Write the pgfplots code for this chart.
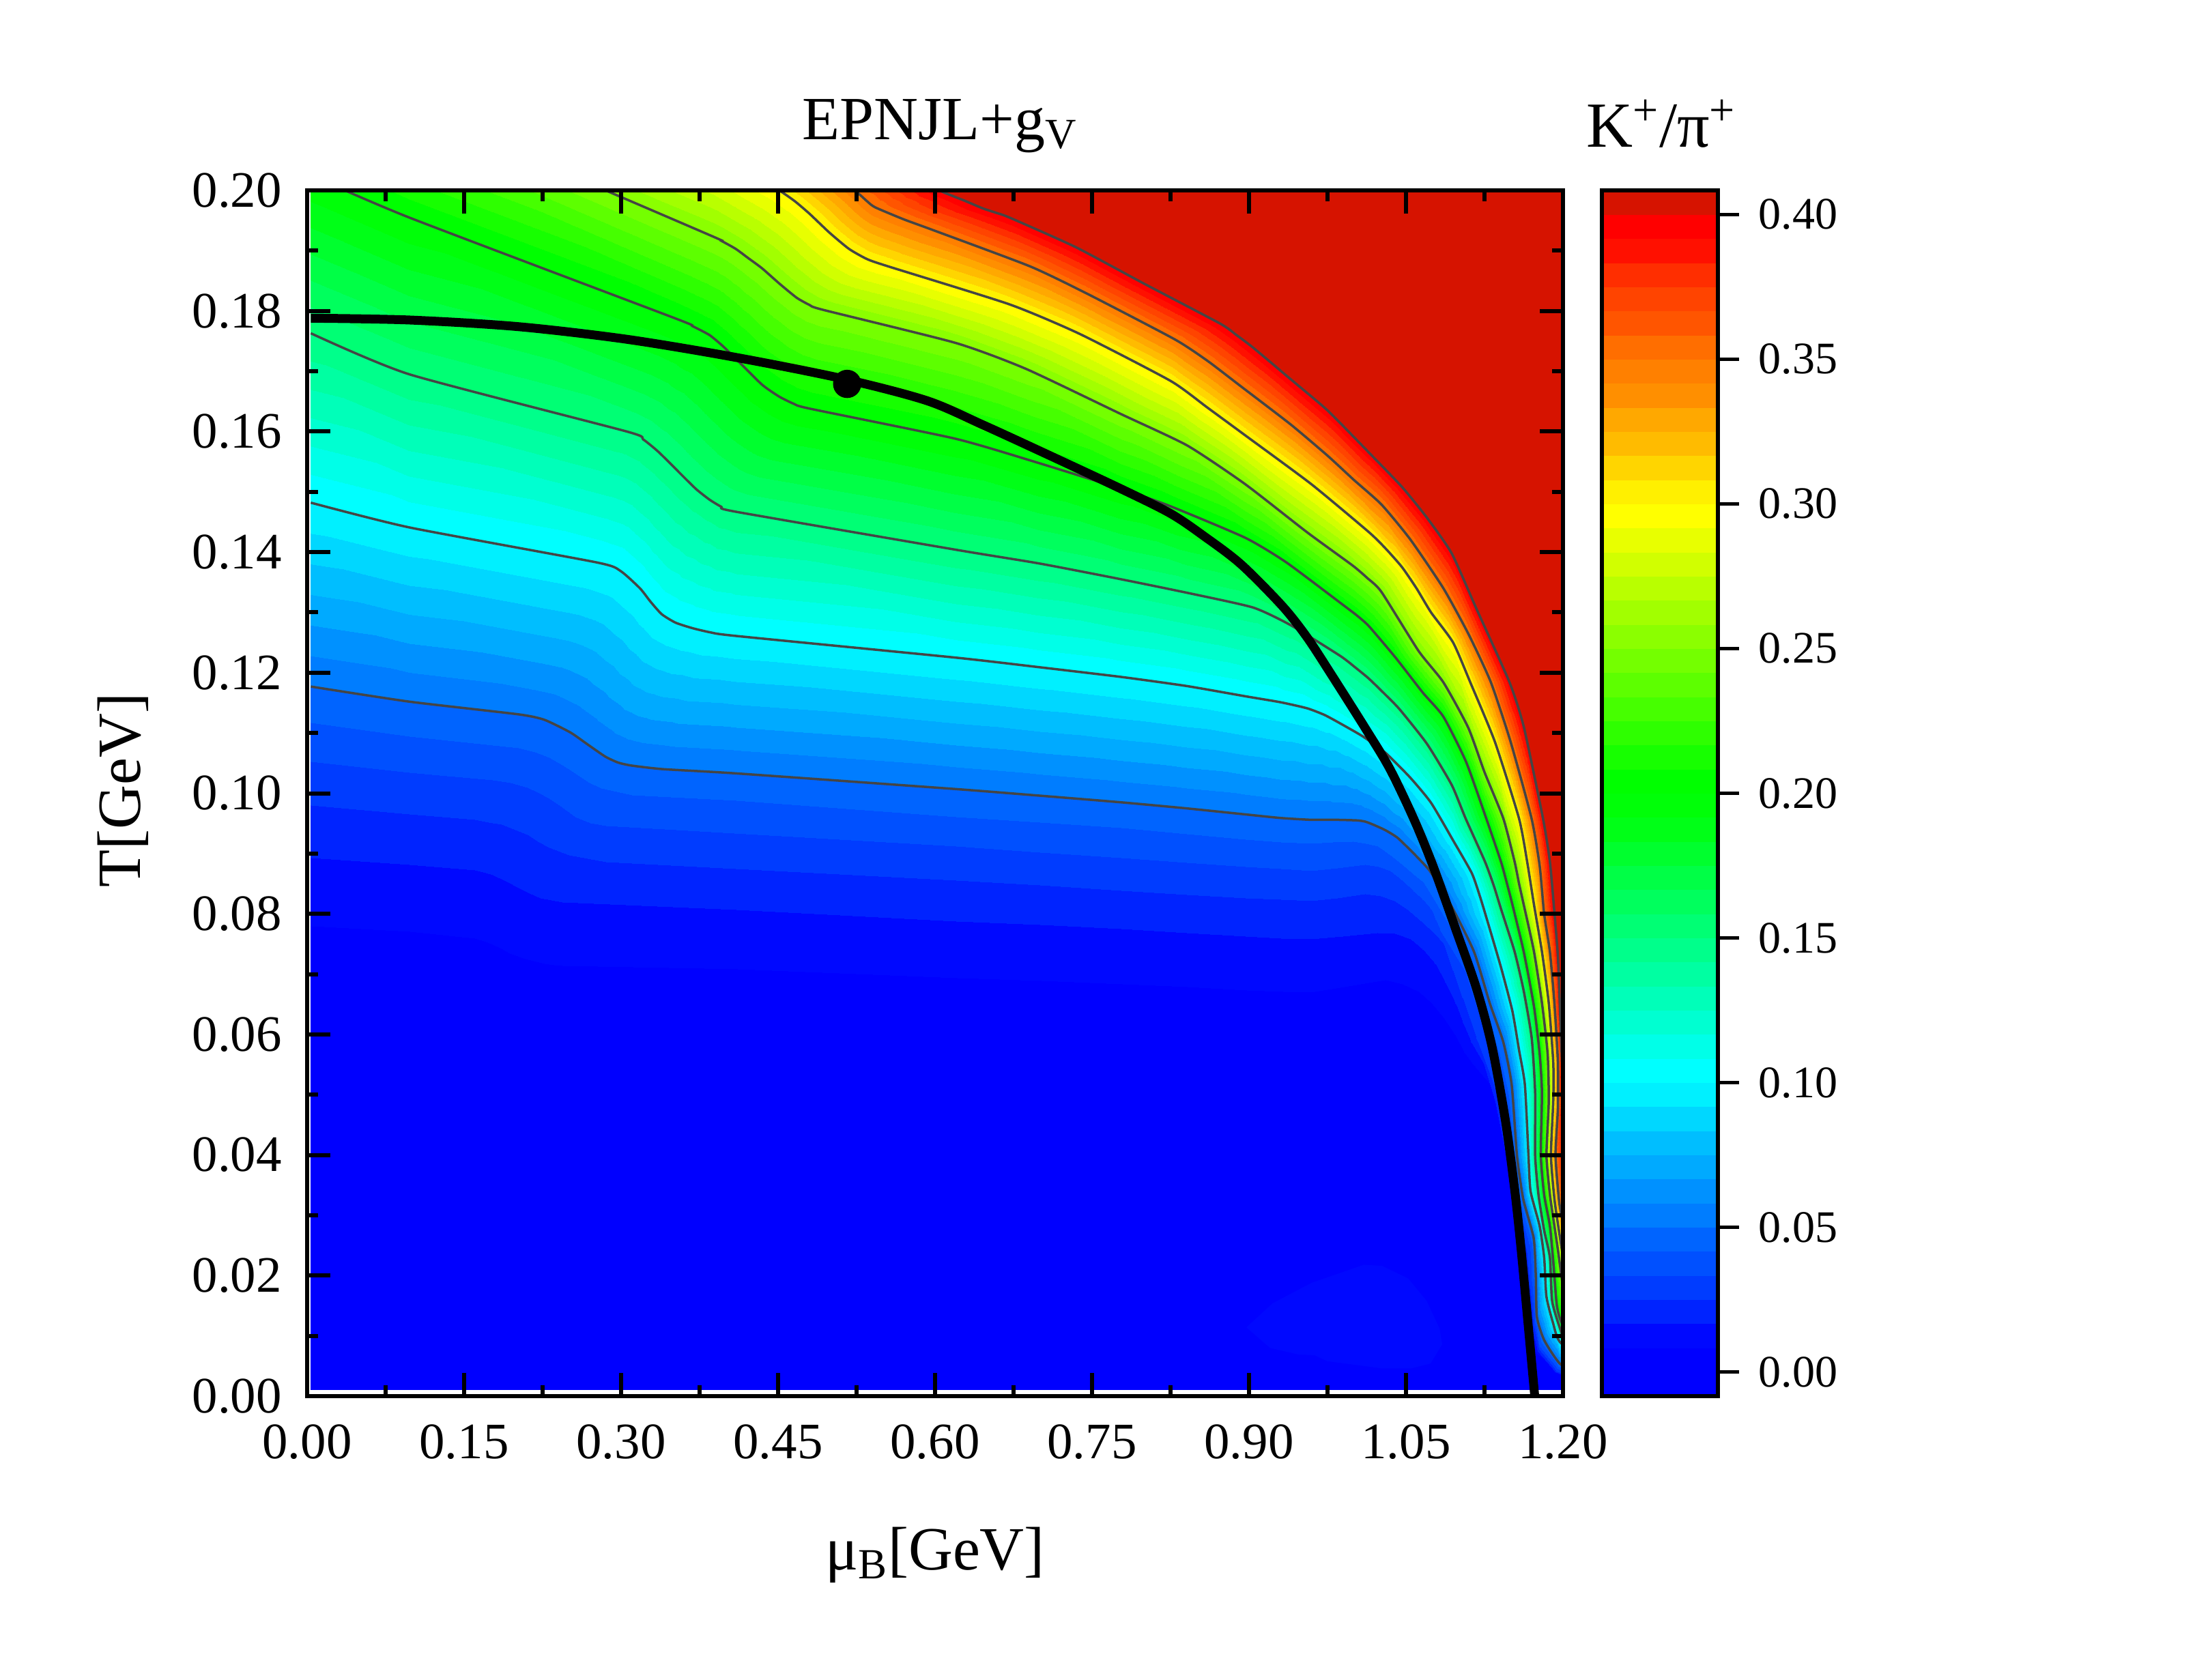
\documentclass[border=0pt]{standalone}
\usepackage{fontspec}
\setmainfont{Liberation Serif}
\usepackage{pgfplots}
\usepackage{pgfplotstable}
\pgfplotsset{compat=1.18}

% 14 contour lines of 40 points: mu_B, T, level
\pgfplotstableread{
m t v
0.0035 0.0011 0
0.0975 0.0011 0
0.1599 0.0011 0
0.170 0.0011 0
0.1766 0.0011 0
0.185 0.0011 0
0.1932 0.0011 0
0.208 0.0011 0
0.2265 0.0011 0
0.24 0.0011 0
0.4095 0.0011 0
0.6196 0.0011 0
0.70 0.0011 0
0.7776 0.0011 0
0.84 0.0011 0
0.8961 0.0011 0
0.93 0.0011 0
0.9593 0.0011 0
0.995 0.0011 0
1.0304 0.0011 0
1.046 0.0011 0
1.062 0.0011 0
1.074 0.0011 0
1.0857 0.0011 0
1.096 0.0011 0
1.106 0.0011 0
1.114 0.0011 0
1.1213 0.0011 0
1.1343 0.0011 0
1.142 0.0011 0
1.147 0.0011 0
1.150 0.0011 0
1.153 0.0011 0
1.156 0.0011 0
1.160 0.0011 0
1.163 0.0011 0
1.168 0.0011 0
1.1745 0.0011 0
1.197 0.0011 0
1.22 0.0011 0
0.0035 0.078 0.00833
0.0975 0.0771 0.00833
0.1599 0.0760 0.00833
0.170 0.0754 0.00833
0.1766 0.0749 0.00833
0.185 0.0742 0.00833
0.1932 0.0735 0.00833
0.208 0.0725 0.00833
0.2265 0.0718 0.00833
0.24 0.0714 0.00833
0.4095 0.0708 0.00833
0.6196 0.0694 0.00833
0.70 0.0689 0.00833
0.7776 0.0684 0.00833
0.84 0.0679 0.00833
0.8961 0.0673 0.00833
0.93 0.0671 0.00833
0.9593 0.0670 0.00833
0.995 0.0680 0.00833
1.0304 0.0690 0.00833
1.046 0.0684 0.00833
1.062 0.0671 0.00833
1.074 0.0652 0.00833
1.0857 0.0627 0.00833
1.096 0.0600 0.00833
1.106 0.0568 0.00833
1.114 0.0550 0.00833
1.1213 0.0535 0.00833
1.1343 0.0509 0.00833
1.142 0.0450 0.00833
1.147 0.0390 0.00833
1.150 0.0330 0.00833
1.153 0.0290 0.00833
1.156 0.0250 0.00833
1.160 0.0210 0.00833
1.163 0.0160 0.00833
1.168 0.0100 0.00833
1.1745 0.0071 0.00833
1.197 0.0037 0.00833
1.22 0.0020 0.00833
0.0035 0.0893 0.01667
0.0975 0.0882 0.01667
0.1599 0.0873 0.01667
0.170 0.0868 0.01667
0.1766 0.0865 0.01667
0.189 0.0855 0.01667
0.2015 0.0843 0.01667
0.212 0.0834 0.01667
0.2223 0.0826 0.01667
0.2431 0.0819 0.01667
0.4095 0.0807 0.01667
0.6196 0.0788 0.01667
0.70 0.0782 0.01667
0.7776 0.0775 0.01667
0.84 0.0769 0.01667
0.8961 0.0763 0.01667
0.93 0.0760 0.01667
0.9593 0.0758 0.01667
0.99 0.0763 0.01667
1.0225 0.0769 0.01667
1.039 0.0767 0.01667
1.054 0.0758 0.01667
1.066 0.0740 0.01667
1.0778 0.0716 0.01667
1.088 0.0685 0.01667
1.0974 0.0650 0.01667
1.105 0.0617 0.01667
1.1126 0.0585 0.01667
1.126 0.0545 0.01667
1.138 0.0500 0.01667
1.144 0.0440 0.01667
1.148 0.0380 0.01667
1.151 0.0330 0.01667
1.155 0.0290 0.01667
1.160 0.0250 0.01667
1.165 0.0190 0.01667
1.170 0.0110 0.01667
1.176 0.0074 0.01667
1.193 0.0040 0.01667
1.22 0.0022 0.01667
0.0035 0.0980 0.025
0.0975 0.0965 0.025
0.1599 0.0956 0.025
0.173 0.0952 0.025
0.1849 0.0948 0.025
0.198 0.0940 0.025
0.2098 0.0931 0.025
0.22 0.0920 0.025
0.2306 0.0910 0.025
0.25 0.0898 0.025
0.2847 0.0886 0.025
0.6196 0.0856 0.025
0.70 0.0848 0.025
0.7776 0.0839 0.025
0.84 0.0832 0.025
0.8961 0.0826 0.025
0.93 0.0824 0.025
0.9593 0.0822 0.025
0.985 0.0826 0.025
1.0107 0.0833 0.025
1.025 0.0830 0.025
1.0383 0.0822 0.025
1.052 0.0806 0.025
1.066 0.0784 0.025
1.076 0.0768 0.025
1.0857 0.0750 0.025
1.091 0.0728 0.025
1.095 0.0705 0.025
1.104 0.0660 0.025
1.118 0.0590 0.025
1.131 0.0530 0.025
1.142 0.0470 0.025
1.148 0.0385 0.025
1.153 0.0310 0.025
1.165 0.0245 0.025
1.168 0.0185 0.025
1.172 0.0115 0.025
1.177 0.0077 0.025
1.194 0.0041 0.025
1.22 0.0024 0.025
0.0035 0.1053 0.03333
0.0975 0.1035 0.03333
0.1766 0.1022 0.03333
0.194 0.1017 0.03333
0.2098 0.1010 0.03333
0.22 0.1002 0.03333
0.2306 0.0992 0.03333
0.243 0.0977 0.03333
0.2556 0.0961 0.03333
0.27 0.0951 0.03333
0.2847 0.0946 0.03333
0.6196 0.0912 0.03333
0.70 0.0902 0.03333
0.7776 0.0893 0.03333
0.84 0.0885 0.03333
0.8961 0.0878 0.03333
0.93 0.0875 0.03333
0.9593 0.0872 0.03333
0.985 0.0876 0.03333
1.0107 0.0882 0.03333
1.023 0.0878 0.03333
1.0344 0.0871 0.03333
1.046 0.0856 0.03333
1.058 0.0837 0.03333
1.066 0.0823 0.03333
1.0738 0.0807 0.03333
1.079 0.0789 0.03333
1.083 0.0770 0.03333
1.106 0.0705 0.03333
1.122 0.0620 0.03333
1.135 0.0555 0.03333
1.145 0.0485 0.03333
1.150 0.0390 0.03333
1.156 0.0317 0.03333
1.168 0.0250 0.03333
1.170 0.0190 0.03333
1.173 0.0120 0.03333
1.178 0.0082 0.03333
1.195 0.0045 0.03333
1.22 0.0026 0.03333
0.0035 0.1117 0.04167
0.0975 0.1095 0.04167
0.2015 0.1075 0.04167
0.217 0.1068 0.04167
0.2306 0.1059 0.04167
0.243 0.1047 0.04167
0.2556 0.1033 0.04167
0.268 0.1019 0.04167
0.2806 0.1009 0.04167
0.3097 0.0997 0.04167
0.4095 0.0988 0.04167
0.6196 0.0961 0.04167
0.70 0.0952 0.04167
0.7776 0.0943 0.04167
0.84 0.0933 0.04167
0.8961 0.0924 0.04167
0.93 0.0919 0.04167
0.9593 0.0917 0.04167
0.98 0.0919 0.04167
0.9988 0.0920 0.04167
1.011 0.0917 0.04167
1.0225 0.0912 0.04167
1.034 0.0899 0.04167
1.0462 0.0882 0.04167
1.056 0.0867 0.04167
1.066 0.0852 0.04167
1.077 0.0823 0.04167
1.088 0.0790 0.04167
1.110 0.0720 0.04167
1.126 0.0635 0.04167
1.139 0.0570 0.04167
1.148 0.0500 0.04167
1.153 0.0395 0.04167
1.159 0.0322 0.04167
1.170 0.0255 0.04167
1.172 0.0195 0.04167
1.174 0.0125 0.04167
1.180 0.0087 0.04167
1.196 0.0049 0.04167
1.22 0.0028 0.04167
0.0035 0.1177 0.05
0.0975 0.1152 0.05
0.2015 0.1131 0.05
0.2265 0.1122 0.05
0.2514 0.1101 0.05
0.268 0.1081 0.05
0.2847 0.1061 0.05
0.297 0.1051 0.05
0.3097 0.1046 0.05
0.34 0.1040 0.05
0.4095 0.1033 0.05
0.6196 0.1007 0.05
0.70 0.0996 0.05
0.7776 0.0985 0.05
0.84 0.0975 0.05
0.8961 0.0965 0.05
0.93 0.0959 0.05
0.959 0.0956 0.05
0.982 0.0956 0.05
1.003 0.0955 0.05
1.011 0.0953 0.05
1.0186 0.0948 0.05
1.030 0.0939 0.05
1.042 0.0926 0.05
1.058 0.0899 0.05
1.072 0.0873 0.05
1.083 0.0843 0.05
1.094 0.0811 0.05
1.115 0.0737 0.05
1.130 0.0652 0.05
1.143 0.0587 0.05
1.151 0.0516 0.05
1.156 0.0399 0.05
1.162 0.0327 0.05
1.172 0.0262 0.05
1.174 0.0200 0.05
1.175 0.0132 0.05
1.182 0.0093 0.05
1.197 0.0054 0.05
1.22 0.0030 0.05
0.0035 0.1482 0.10
0.0975 0.1441 0.10
0.2764 0.1383 0.10
0.2992 0.1369 0.10
0.318 0.1340 0.10
0.328 0.1318 0.10
0.3388 0.1297 0.10
0.352 0.1283 0.10
0.3679 0.1274 0.10
0.385 0.1267 0.10
0.4095 0.1261 0.10
0.6196 0.1225 0.10
0.70 0.1209 0.10
0.7776 0.1193 0.10
0.84 0.1178 0.10
0.8961 0.1161 0.10
0.93 0.1151 0.10
0.9554 0.1141 0.10
0.972 0.1130 0.10
0.987 0.1116 0.10
1.009 0.1094 0.10
1.0304 0.1067 0.10
1.054 0.1026 0.10
1.074 0.0984 0.10
1.0956 0.0920 0.10
1.113 0.0867 0.10
1.121 0.0827 0.10
1.1278 0.0788 0.10
1.1408 0.0711 0.10
1.1516 0.0639 0.10
1.158 0.0574 0.10
1.1636 0.0516 0.10
1.167 0.0400 0.10
1.169 0.0340 0.10
1.1777 0.0282 0.10
1.182 0.0230 0.10
1.1842 0.0165 0.10
1.1907 0.0120 0.10
1.197 0.0090 0.10
1.225 0.0050 0.10
0.0035 0.1763 0.15
0.0975 0.1695 0.15
0.3055 0.1600 0.15
0.321 0.1587 0.15
0.3346 0.1568 0.15
0.347 0.1547 0.15
0.3596 0.1525 0.15
0.372 0.1504 0.15
0.3845 0.1487 0.15
0.396 0.1475 0.15
0.4095 0.1467 0.15
0.6196 0.1404 0.15
0.70 0.1381 0.15
0.7776 0.1355 0.15
0.845 0.1331 0.15
0.904 0.1308 0.15
0.9396 0.1279 0.15
0.987 0.1228 0.15
1.002 0.1208 0.15
1.0146 0.1190 0.15
1.030 0.1164 0.15
1.044 0.1139 0.15
1.07 0.1082 0.15
1.0936 0.1014 0.15
1.107 0.0958 0.15
1.1256 0.0886 0.15
1.134 0.0846 0.15
1.1408 0.0808 0.15
1.1538 0.0737 0.15
1.1625 0.0672 0.15
1.1701 0.0594 0.15
1.1734 0.0503 0.15
1.1734 0.0399 0.15
1.1766 0.0334 0.15
1.182 0.0275 0.15
1.1875 0.0230 0.15
1.1896 0.0158 0.15
1.197 0.0113 0.15
1.205 0.0080 0.15
1.23 0.0050 0.15
0.0035 0.2025 0.20
0.0975 0.1955 0.20
0.3513 0.1788 0.20
0.368 0.1775 0.20
0.3845 0.1760 0.20
0.397 0.1742 0.20
0.4095 0.1721 0.20
0.4345 0.1678 0.20
0.451 0.1658 0.20
0.465 0.1646 0.20
0.4802 0.1638 0.20
0.6196 0.1588 0.20
0.6986 0.1548 0.20
0.7776 0.1505 0.20
0.825 0.1476 0.20
0.8961 0.1424 0.20
0.9356 0.1383 0.20
0.9909 0.1311 0.20
1.003 0.1295 0.20
1.0146 0.1277 0.20
1.04 0.1225 0.20
1.066 0.1167 0.20
1.0857 0.1127 0.20
1.1074 0.1052 0.20
1.1267 0.0958 0.20
1.1408 0.0886 0.20
1.1465 0.0850 0.20
1.1517 0.0815 0.20
1.1625 0.0737 0.20
1.1723 0.0646 0.20
1.1777 0.0568 0.20
1.1799 0.0503 0.20
1.1788 0.0399 0.20
1.182 0.0334 0.20
1.1875 0.0282 0.20
1.1907 0.0223 0.20
1.194 0.0152 0.20
1.1977 0.0126 0.20
1.21 0.0080 0.20
1.235 0.0050 0.20
0.0035 0.2213 0.25
0.0975 0.2140 0.25
0.3804 0.1929 0.25
0.395 0.1917 0.25
0.4095 0.1903 0.25
0.422 0.1887 0.25
0.4345 0.1871 0.25
0.4515 0.1845 0.25
0.4677 0.1822 0.25
0.48 0.1810 0.25
0.4927 0.1802 0.25
0.6196 0.1747 0.25
0.6868 0.1704 0.25
0.7776 0.1629 0.25
0.8408 0.1577 0.25
0.8961 0.1513 0.25
0.9554 0.1433 0.25
0.9988 0.1378 0.25
1.013 0.1357 0.25
1.0265 0.1334 0.25
1.062 0.1236 0.25
1.0857 0.1184 0.25
1.1094 0.1109 0.25
1.125 0.1035 0.25
1.143 0.0958 0.25
1.1538 0.0886 0.25
1.158 0.0850 0.25
1.1625 0.0815 0.25
1.1723 0.0737 0.25
1.1799 0.0652 0.25
1.1853 0.0568 0.25
1.1864 0.0490 0.25
1.1842 0.0399 0.25
1.1875 0.0334 0.25
1.1907 0.0295 0.25
1.1951 0.0243 0.25
1.20 0.0180 0.25
1.205 0.0120 0.25
1.215 0.0080 0.25
1.24 0.0050 0.25
0.0035 0.2340 0.30
0.0975 0.2275 0.30
0.38 0.2070 0.30
0.42 0.2030 0.30
0.451 0.2000 0.30
0.466 0.1982 0.30
0.4802 0.1961 0.30
0.499 0.1930 0.30
0.5177 0.1903 0.30
0.535 0.1886 0.30
0.5551 0.1874 0.30
0.671 0.1811 0.30
0.7381 0.1762 0.30
0.825 0.1684 0.30
0.86 0.1640 0.30
0.8961 0.1594 0.30
0.9593 0.1513 0.30
1.0146 0.1433 0.30
1.031 0.1405 0.30
1.0462 0.1375 0.30
1.06 0.1340 0.30
1.0739 0.1300 0.30
1.095 0.1250 0.30
1.1114 0.1184 0.30
1.135 0.1085 0.30
1.158 0.0958 0.30
1.1658 0.0886 0.30
1.1723 0.0815 0.30
1.1799 0.0737 0.30
1.1864 0.0652 0.30
1.1907 0.0553 0.30
1.1907 0.0490 0.30
1.1885 0.0399 0.30
1.1918 0.0327 0.30
1.1965 0.0270 0.30
1.20 0.0230 0.30
1.203 0.0180 0.30
1.21 0.0120 0.30
1.22 0.0080 0.30
1.245 0.0050 0.30
0.0035 0.2450 0.35
0.0975 0.2400 0.35
0.40 0.2100 0.35
0.45 0.2065 0.35
0.50 0.2030 0.35
0.515 0.2012 0.35
0.528 0.1993 0.35
0.535 0.1982 0.35
0.5426 0.1972 0.35
0.57 0.1952 0.35
0.5967 0.1935 0.35
0.6907 0.1874 0.35
0.746 0.1828 0.35
0.8289 0.1753 0.35
0.8605 0.1717 0.35
0.8922 0.1675 0.35
0.9396 0.1612 0.35
0.975 0.1560 0.35
1.0 0.1520 0.35
1.0265 0.1479 0.35
1.0541 0.1421 0.35
1.0857 0.1340 0.35
1.11 0.1263 0.35
1.1311 0.1184 0.35
1.15 0.1085 0.35
1.170 0.0958 0.35
1.1777 0.0880 0.35
1.182 0.0800 0.35
1.1875 0.0737 0.35
1.1918 0.0652 0.35
1.1951 0.0555 0.35
1.1951 0.0477 0.35
1.1929 0.0399 0.35
1.1965 0.0320 0.35
1.202 0.0270 0.35
1.205 0.0230 0.35
1.208 0.0180 0.35
1.215 0.0120 0.35
1.225 0.0080 0.35
1.25 0.0050 0.35
0.0035 0.2600 0.40
0.0975 0.2550 0.40
0.45 0.2140 0.40
0.50 0.2085 0.40
0.55 0.2040 0.40
0.58 0.2018 0.40
0.6092 0.1996 0.40
0.628 0.1983 0.40
0.6458 0.1970 0.40
0.658 0.1963 0.40
0.671 0.1955 0.40
0.7342 0.1906 0.40
0.80 0.1845 0.40
0.8724 0.1779 0.40
0.888 0.1760 0.40
0.904 0.1739 0.40
0.9396 0.1687 0.40
0.975 0.1635 0.40
1.0146 0.1565 0.40
1.0462 0.1508 0.40
1.07 0.1457 0.40
1.0936 0.1398 0.40
1.1173 0.1306 0.40
1.1489 0.1184 0.40
1.1627 0.1109 0.40
1.1809 0.0958 0.40
1.1875 0.0886 0.40
1.1918 0.0802 0.40
1.1951 0.0730 0.40
1.1973 0.0633 0.40
1.199 0.0555 0.40
1.20 0.0500 0.40
1.201 0.0400 0.40
1.204 0.0320 0.40
1.21 0.0270 0.40
1.215 0.0220 0.40
1.22 0.0180 0.40
1.23 0.0120 0.40
1.24 0.0080 0.40
1.26 0.0050 0.40
}\contours

\pgfplotsset{
  colormap={kpi}{
    rgb255=(0,0,255) rgb255=(0,0,255) rgb255=(0,8,255) rgb255=(0,35,255) rgb255=(0,60,255)
    rgb255=(0,80,255) rgb255=(0,100,255) rgb255=(0,125,255) rgb255=(0,145,255) rgb255=(0,170,255)
    rgb255=(0,190,255) rgb255=(0,215,255) rgb255=(0,240,255) rgb255=(0,255,255) rgb255=(0,255,232)
    rgb255=(0,255,209) rgb255=(0,255,185) rgb255=(0,255,162) rgb255=(0,255,139) rgb255=(0,255,116)
    rgb255=(0,255,93) rgb255=(0,255,70) rgb255=(0,255,46) rgb255=(0,255,23) rgb255=(0,255,8)
    rgb255=(0,255,0) rgb255=(23,255,0) rgb255=(46,255,0) rgb255=(70,255,0) rgb255=(93,255,0)
    rgb255=(116,255,0) rgb255=(139,255,0) rgb255=(162,255,0) rgb255=(185,255,0) rgb255=(209,255,0)
    rgb255=(232,255,0) rgb255=(255,255,0) rgb255=(255,240,0) rgb255=(255,213,0) rgb255=(255,187,0)
    rgb255=(255,168,0) rgb255=(255,143,0) rgb255=(255,128,0) rgb255=(255,110,0) rgb255=(255,85,0)
    rgb255=(255,68,0) rgb255=(255,46,0) rgb255=(255,16,0) rgb255=(255,0,0) rgb255=(214,19,0)
  },
  clevel/.style 2 args={draw=black!73, line width=0.035cm, no markers, line join=round, smooth, tension=0.35,
    skip coords between index={0}{#1}, skip coords between index={#2}{560}},
  bandmesh/.style={surf, shader=interp, colormap access=piecewise constant,
    point meta min=-0.008333, point meta max=0.408333},
}
\definecolor{topred}{RGB}{214,19,0}
\definecolor{blobblue}{RGB}{0,8,255}

\begin{document}
\begin{tikzpicture}
\path[use as bounding box] (0,0) rectangle (32.16,24.61);

\begin{axis}[
    name=main,
    at={(4.5cm,4.15cm)}, anchor=south west,
    scale only axis, width=18.4cm, height=17.67cm,
    xmin=0, xmax=1.2, ymin=0, ymax=0.2,
    axis on top,
    axis line style={line width=0.065cm},
    tick align=inside,
    major tick length=0.34cm, minor tick length=0.16cm,
    every tick/.style={black, line width=0.06cm},
    xtick={0,0.15,0.3,0.45,0.6,0.75,0.9,1.05,1.2},
    ytick={0,0.02,0.04,0.06,0.08,0.1,0.12,0.14,0.16,0.18,0.2},
    minor xtick={0.075,0.225,0.375,0.525,0.675,0.825,0.975,1.125},
    minor ytick={0.01,0.03,0.05,0.07,0.09,0.11,0.13,0.15,0.17,0.19},
    /pgf/number format/.cd, fixed, fixed zerofill, precision=2, assume math mode=true, /pgfplots/.cd,
    tick label style={font=\fontsize{21.3}{25}\selectfont},
    xticklabel style={yshift=-0.29cm},
    yticklabel style={xshift=-0.25cm},
    scaled ticks=false,
    title={EPNJL+g\textsubscript{V}},
    title style={font=\fontsize{25.6}{30}\selectfont, at={(axis description cs:0.504,1.0305)}, anchor=base},
    xlabel={μ\textsubscript{B}[GeV]},
    xlabel style={font=\fontsize{25.6}{30}\selectfont, at={(axis description cs:0.5,-0.144)}, anchor=base},
    ylabel={T[GeV]},
    every axis y label/.style={font=\fontsize{25.6}{30}\selectfont, at={(axis description cs:-0.133,0.5024)}, rotate=90, anchor=base},
]
% dark red behind everything above the 0.40 line
\addplot[fill=topred, draw=none] coordinates {(0.0035,0.0011) (1.2,0.0011) (1.2,0.2) (0.0035,0.2)} -- cycle;

\addplot[bandmesh, mesh/rows=14, mesh/cols=40, point meta=\thisrow{v}] table[x=m, y=t] {\contours};

% small island just above the first level
\addplot[fill=blobblue, draw=none] coordinates {
  (0.8975,0.0114) (0.9225,0.0154) (0.9599,0.0188) (1.0098,0.0218) (1.0272,0.0216) (1.0522,0.0195)
  (1.0697,0.0158) (1.0821,0.0112) (1.0846,0.0086) (1.0734,0.0054) (1.0547,0.0046) (1.0272,0.0046)
  (0.9748,0.0058) (0.9624,0.0068) (0.9474,0.0069) (0.9200,0.0080) (0.9075,0.0099)} -- cycle;

\addplot[clevel={240}{280}] table[x=m, y=t] {\contours};
\addplot[clevel={280}{320}] table[x=m, y=t] {\contours};
\addplot[clevel={320}{360}] table[x=m, y=t] {\contours};
\addplot[clevel={360}{400}] table[x=m, y=t] {\contours};
\addplot[clevel={400}{440}] table[x=m, y=t] {\contours};
\addplot[clevel={440}{480}] table[x=m, y=t] {\contours};
\addplot[clevel={480}{520}] table[x=m, y=t] {\contours};
\addplot[clevel={520}{560}] table[x=m, y=t] {\contours};

% phase boundary
\addplot[black, line width=0.13cm, smooth, tension=0.5, line join=round, no markers] coordinates {
  (0.0035,0.1788) (0.0975,0.1785) (0.2015,0.1774) (0.3055,0.1753) (0.4095,0.1723) (0.5135,0.1687)
  (0.5925,0.1651) (0.6458,0.1611) (0.6986,0.1569) (0.7776,0.1505) (0.825,0.1464) (0.8566,0.1427)
  (0.8922,0.1380) (0.9316,0.1311) (0.9553,0.1259) (0.979,0.1196) (1.0107,0.1109) (1.0344,0.1041)
  (1.0573,0.0958) (1.0757,0.0880) (1.0974,0.0775) (1.117,0.0678) (1.132,0.0581) (1.145,0.0457)
  (1.154,0.0340) (1.160,0.0243) (1.167,0.0113) (1.173,0.0)};
\addplot[only marks, mark=*, mark size=0.2cm, mark options={black}] coordinates {(0.516,0.1679)};
\end{axis}

% colour scale
\begin{axis}[
    at={(23.47cm,4.15cm)}, anchor=south west,
    scale only axis, width=1.7cm, height=17.67cm,
    xmin=0, xmax=1, ymin=-0.008333, ymax=0.408333,
    axis on top,
    axis line style={line width=0.055cm},
    xtick=\empty,
    ytick={0,0.05,0.1,0.15,0.2,0.25,0.3,0.35,0.4},
    ytick pos=right, yticklabel pos=right, tick align=outside,
    major tick length=0.31cm,
    every tick/.style={black, line width=0.05cm},
    /pgf/number format/.cd, fixed, fixed zerofill, precision=2, assume math mode=true, /pgfplots/.cd,
    tick label style={font=\fontsize{18.8}{22}\selectfont},
    yticklabel style={xshift=0.16cm},
    scaled ticks=false,
    title={K\textsuperscript{+}/π\textsuperscript{+}},
    title style={font=\fontsize{26.8}{30}\selectfont, at={(axis description cs:-0.208,1.024)}, anchor=base west},
]
\addplot[bandmesh, mesh/rows=2, mesh/cols=2, point meta=\thisrow{v}] table[x=x, y=y] {
x y v
0 -0.008333 -0.008333
1 -0.008333 -0.008333
0 0.408333 0.408333
1 0.408333 0.408333
};
\end{axis}
\end{tikzpicture}
\end{document}
